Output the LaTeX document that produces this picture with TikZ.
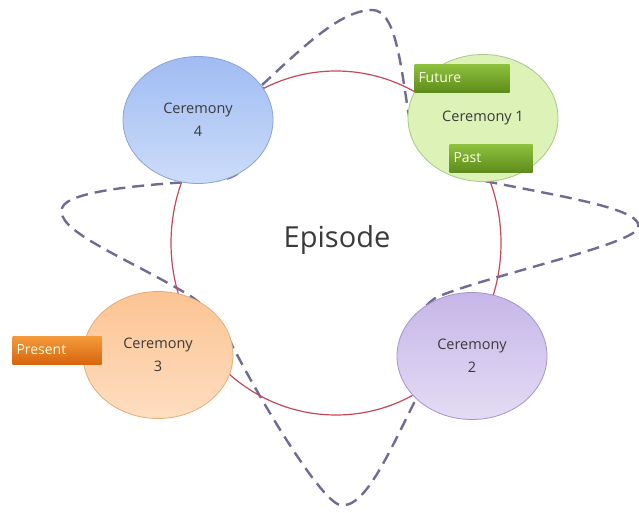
\documentclass[tikz,border=0pt]{standalone}
\usepackage{fontspec}
\setmainfont{Open Sans}
\usetikzlibrary{shapes.geometric}
\definecolor{redline}{HTML}{C4485A}
\definecolor{dashcol}{HTML}{6E6C94}
\definecolor{txt}{HTML}{3A3A3A}
\definecolor{bdrA}{HTML}{8AA2D6}
\definecolor{topA}{HTML}{A0BCF2}
\definecolor{botA}{HTML}{CCDCFA}
\definecolor{bdrB}{HTML}{A8C888}
\definecolor{fillB}{HTML}{DCF2B6}
\definecolor{bdrC}{HTML}{E2AE78}
\definecolor{topC}{HTML}{FCC493}
\definecolor{botC}{HTML}{FEDDC0}
\definecolor{bdrD}{HTML}{A494CC}
\definecolor{topD}{HTML}{C6B6E8}
\definecolor{botD}{HTML}{E4DCF4}
\definecolor{grTop}{HTML}{8EC23E}
\definecolor{grBot}{HTML}{5E8C1C}
\definecolor{orTop}{HTML}{F49C3C}
\definecolor{orBot}{HTML}{D8650E}
\begin{document}
\begin{tikzpicture}[x=1pt,y=-1pt,
  cer/.style={ellipse, draw, line width=0.8pt, minimum width=150pt, minimum height=127pt,
    align=center, font=\fontsize{14.5}{23}\selectfont, text=txt, inner sep=0pt},
  lab/.style={rectangle, minimum height=28pt, text width=87pt, align=left, inner xsep=4pt,
    font=\fontsize{14}{15}\selectfont, text=white!90!yellow},
  greenlab/.style={lab, top color=grTop, bottom color=grBot},
  wavy/.style={draw=dashcol, line width=2.4pt, dash pattern=on 12pt off 7pt}]
\useasboundingbox (0,0) rectangle (639,512);
% dashed weaving curve
\draw[wavy] (262,85) .. controls (300,50) and (340,10) .. (372,10)
  .. controls (395,10) and (400,60) .. (408,110)
  .. controls (415,160) and (450,175) .. (495,183)
  .. controls (570,198) and (645,210) .. (638,228)
  .. controls (632,245) and (490,275) .. (437,297)
  .. controls (400,320) and (410,370) .. (417,397)
  .. controls (390,450) and (365,510) .. (340,505)
  .. controls (320,500) and (260,400) .. (232,345)
  .. controls (222,322) and (200,300) .. (182,291)
  .. controls (120,255) and (55,230) .. (62,208)
  .. controls (68,190) and (150,184) .. (220,180)
  .. controls (260,175) and (270,120) .. (262,85);
% episode circle
\node[ellipse, draw=redline, line width=1.2pt, minimum width=330pt, minimum height=344pt] (ep) at (336,243) {};
\node[font=\fontsize{29}{32}\selectfont, text=txt] (eptext) at (337,240) {Episode};
% ceremonies
\node[cer, draw=bdrA, top color=topA, bottom color=botA] (c4) at (198,120) {Ceremony\\4};
\node[cer, draw=bdrB, fill=fillB] (c1) at (483,118) {Ceremony 1};
\node[cer, draw=bdrC, top color=topC, bottom color=botC] (c3) at (158,355) {Ceremony\\3};
\node[cer, draw=bdrD, top color=topD, bottom color=botD] (c2) at (472,356) {Ceremony\\2};
% labels
\node[greenlab] (future) at (462,78) {Future};
\node[greenlab, text width=75pt] (past) at (491,158) {Past};
\node[lab, top color=orTop, bottom color=orBot, text width=81pt] (present) at (57,350) {Present};
\end{tikzpicture}
\end{document}
